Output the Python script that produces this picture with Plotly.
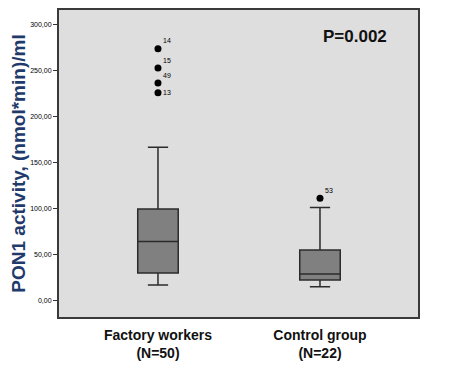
import plotly.graph_objects as go

categories = ["Factory workers<br>(N=50)", "Control group<br>(N=22)"]
positions = [0, 1]
q1 = [30.4, 22.8]
median = [64.5, 29.3]
q3 = [100.0, 55.4]
lower_whisker = [17.4, 15.5]
upper_whisker = [167.0, 101.4]

outlier_group = [0, 0, 0, 0, 1]
outlier_values = [274.0, 253.0, 236.6, 226.0, 111.6]
outlier_ids = ["14", "15", "49", "13", "53"]
outlier_label_yshift = [8, 8, 8, 0, 8]

y_ticks = [0, 50, 100, 150, 200, 250, 300]
y_tick_labels = ["0,00", "50,00", "100,00", "150,00", "200,00", "250,00", "300,00"]

fig = go.Figure()
for i in range(len(categories)):
    fig.add_trace(go.Box(
        x=[positions[i]], q1=[q1[i]], median=[median[i]], q3=[q3[i]],
        lowerfence=[lower_whisker[i]], upperfence=[upper_whisker[i]],
        width=0.25, whiskerwidth=0.5, boxpoints=False,
        fillcolor="#808080", line=dict(color="#2b2b2b", width=1.5),
        showlegend=False, hoverinfo="skip"))

fig.add_trace(go.Scatter(
    x=[positions[g] for g in outlier_group], y=outlier_values,
    mode="markers", marker=dict(color="black", size=7),
    showlegend=False, cliponaxis=False, hoverinfo="skip"))

for g, v, t, ys in zip(outlier_group, outlier_values, outlier_ids, outlier_label_yshift):
    fig.add_annotation(x=positions[g], y=v, text=t, showarrow=False,
                       xanchor="left", yanchor="middle", xshift=3, yshift=ys,
                       font=dict(family="Arial", size=7, color="#000"))

fig.add_annotation(x=0.825, y=0.915, xref="paper", yref="paper", text="<b>P=0.002</b>",
                   showarrow=False, font=dict(family="Arial", size=17, color="#111"),
                   xanchor="center", yanchor="middle")

fig.update_layout(
    width=450, height=359,
    margin=dict(l=51, r=40, t=2, b=50),
    paper_bgcolor="white", plot_bgcolor="#dedede",
    font=dict(family="Arial"),
    xaxis=dict(range=[-0.611, 1.605], tickvals=positions, ticktext=["<b>" + c + "</b>" for c in categories],
               showgrid=False, zeroline=False, showline=True, linecolor="#3a3a3a", linewidth=2,
               mirror=True, ticks="", ticklabelstandoff=4,
               tickfont=dict(size=14, color="#111"), automargin=False),
    yaxis=dict(range=[-17.4, 316], tickvals=y_ticks, ticktext=y_tick_labels,
               showgrid=False, zeroline=False, showline=True, linecolor="#3a3a3a", linewidth=2,
               mirror=True, ticks="outside", ticklen=4, tickcolor="#333",
               tickfont=dict(size=7, color="#000"), automargin=False,
               title=dict(text="<b>PON1 activity, (nmol*min)/ml</b>", standoff=5,
                          font=dict(size=19, color="#1f3a6b"))),
)

fig.write_html("out.html")
